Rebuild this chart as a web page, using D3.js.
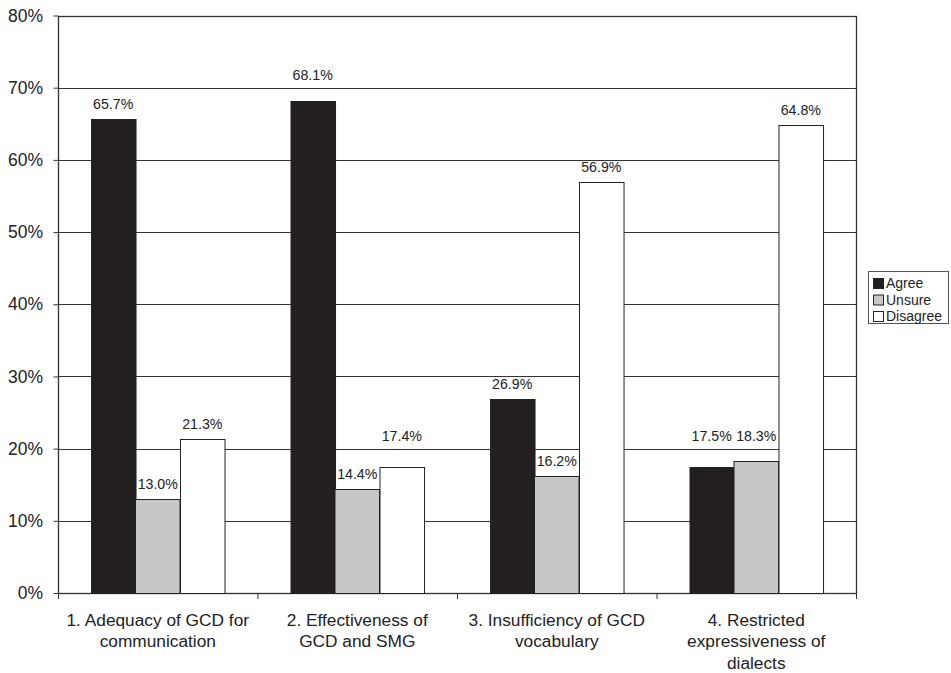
<!DOCTYPE html>
<html lang="en">
<head>
<meta charset="UTF-8">
<title>GCD survey</title>
<script src="https://d3js.org/d3.v7.min.js"></script>
<style>
    body { margin: 0; background: #fff; }
    svg { font-family: "Liberation Sans", Arial, sans-serif; }
    .grid line { stroke: #333; stroke-width: 1; }
</style>
</head>
<body>
<svg width="951" height="673"></svg>
<script>
    const categories = [
        ["1. Adequacy of GCD for", "communication"],
        ["2. Effectiveness of", "GCD and SMG"],
        ["3. Insufficiency of GCD", "vocabulary"],
        ["4. Restricted", "expressiveness of", "dialects"]
    ];
    const seriesNames = ["Agree", "Unsure", "Disagree"];
    const agree = [65.7, 68.1, 26.9, 17.5];
    const unsure = [13.0, 14.4, 16.2, 18.3];
    const disagree = [21.3, 17.4, 56.9, 64.8];
    const yTicks = [0, 10, 20, 30, 40, 50, 60, 70, 80];
    const colors = ["#231f20", "#c6c7c8", "#ffffff"];

    const svg = d3.select("svg");
    const plotL = 58, plotR = 856, plotT = 15.5, plotB = 593;

    const x = d3.scaleBand().domain(d3.range(categories.length)).range([plotL, plotR]);
    const x1 = d3.scaleBand().domain(d3.range(3)).range([0, x.bandwidth()]).paddingOuter(0.74);
    const y = d3.scaleLinear().domain([0, 80]).range([plotB, plotT]);

    // grid lines
    svg.append("g").attr("class", "grid")
        .selectAll("line").data(yTicks.slice(1, -1)).enter().append("line")
        .attr("x1", plotL).attr("x2", plotR)
        .attr("y1", d => Math.round(y(d)) + 0.5).attr("y2", d => Math.round(y(d)) + 0.5);

    // plot frame
    svg.append("rect")
        .attr("x", plotL + 0.5).attr("y", Math.round(plotT) + 0.5)
        .attr("width", plotR - plotL).attr("height", Math.round(plotB) - Math.round(plotT))
        .attr("fill", "none").attr("stroke", "#333").attr("stroke-width", 1.3);

    // label baseline: 10px above the bar, lifted clear of a gridline it would sit on
    function labelY(v) {
        let b = y(v) - 10;
        yTicks.slice(1, -1).forEach(t => {
            const gy = y(t);
            if (gy > b - 12 && gy < b + 2) b = gy - 8;
        });
        return b;
    }

    const series = [agree, unsure, disagree];
    const groups = svg.append("g").selectAll("g")
        .data(categories).enter().append("g")
        .attr("transform", (d, i) => `translate(${x(i)},0)`);

    groups.each(function(c, i) {
        const g = d3.select(this);
        series.forEach((vals, s) => {
            g.append("rect")
                .attr("x", Math.round(x1(s)) + 0.5).attr("width", x1.bandwidth())
                .attr("y", Math.round(y(vals[i])) + 0.5).attr("height", Math.round(plotB) - Math.round(y(vals[i])))
                .attr("fill", colors[s]).attr("stroke", "#222").attr("stroke-width", 1);
            g.append("text")
                .attr("x", x1(s) + x1.bandwidth() / 2)
                .attr("y", labelY(vals[i]))
                .attr("text-anchor", "middle")
                .attr("font-size", 14.2).attr("fill", "#222")
                .text(vals[i].toFixed(1) + "%");
        });
    });

    // y axis
    const yAxis = svg.append("g")
        .attr("transform", `translate(${plotL + 0.5},0)`)
        .call(d3.axisLeft(y).tickValues(yTicks).tickFormat(d => d + "%").tickSize(5).tickPadding(10.5));
    yAxis.select(".domain").remove();
    yAxis.selectAll("line").attr("stroke", "#333");
    yAxis.selectAll("text").attr("font-size", 17.5).attr("fill", "#222")
        .attr("font-family", "'Liberation Sans', Arial, sans-serif");

    // x axis ticks
    svg.append("g").selectAll("line")
        .data(d3.range(categories.length + 1)).enter().append("line")
        .attr("x1", d => plotL + d * x.step() + 0.5).attr("x2", d => plotL + d * x.step() + 0.5)
        .attr("y1", plotB).attr("y2", plotB + 6)
        .attr("stroke", "#333");

    // category labels
    svg.append("g").selectAll("text")
        .data(categories).enter().append("text")
        .attr("text-anchor", "middle")
        .attr("font-size", 17.3).attr("fill", "#222")
        .attr("x", (d, i) => x(i) + x.bandwidth() / 2)
        .attr("y", 625.5)
        .each(function(lines) {
            d3.select(this).selectAll("tspan").data(lines).enter().append("tspan")
                .attr("x", d3.select(this).attr("x"))
                .attr("dy", (d, j) => j === 0 ? 0 : 21.5)
                .text(d => d);
        });

    // legend
    const lg = svg.append("g").attr("transform", "translate(868,271)");
    lg.append("rect").attr("x", 0.5).attr("y", 0.5).attr("width", 80).attr("height", 52)
        .attr("fill", "#fff").attr("stroke", "#555");
    seriesNames.forEach((name, s) => {
        lg.append("rect").attr("x", 5.5).attr("y", 7.5 + s * 16.5).attr("width", 10).attr("height", 10)
            .attr("fill", colors[s]).attr("stroke", "#222");
        lg.append("text").attr("x", 18).attr("y", 17 + s * 16.5)
            .attr("font-size", 14).attr("fill", "#222").text(name);
    });
</script>
</body>
</html>
